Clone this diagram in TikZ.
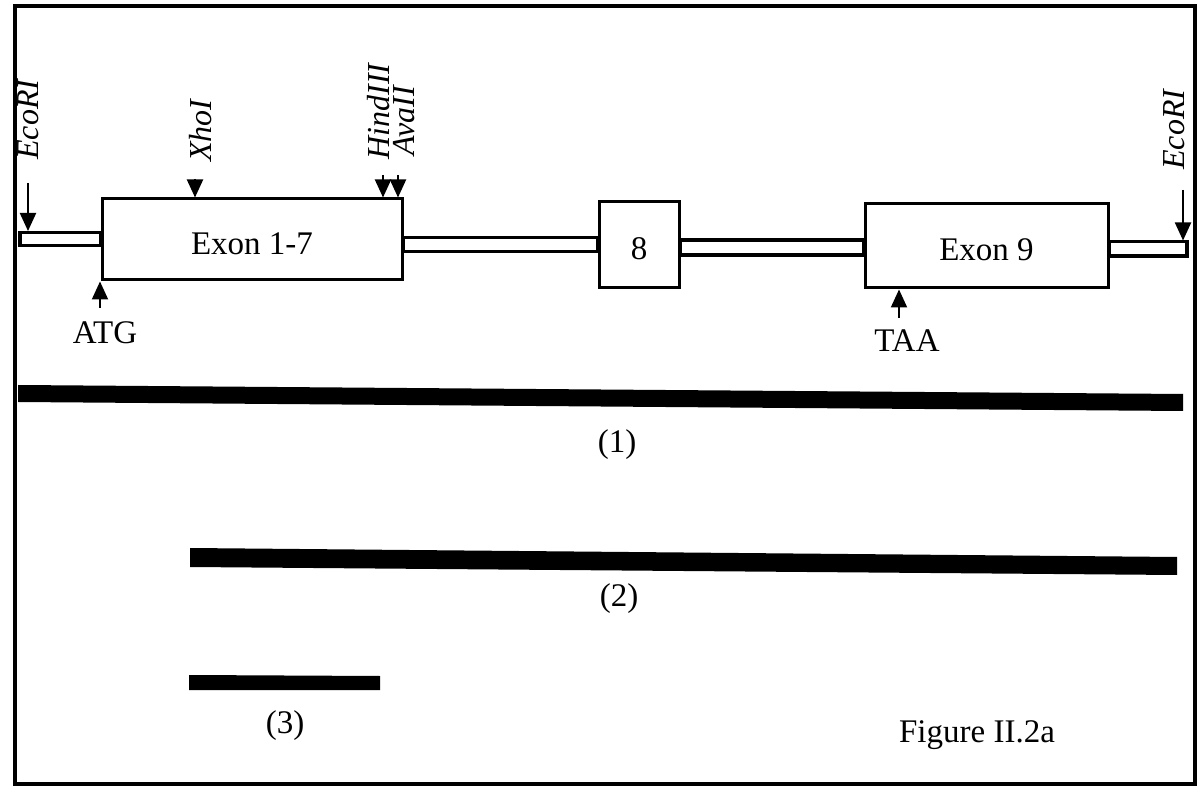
\documentclass[tikz,border=0pt]{standalone}
\usepackage{fontspec}
\setmainfont{Liberation Serif}
\usetikzlibrary{arrows.meta,positioning}
\tikzset{
  exonbox/.style={draw,line width=1.5pt,inner sep=0pt,text height=15pt,text depth=0pt,font=\fontsize{16.5}{20}\selectfont},
  intron/.style={draw,line width=1.6pt},
  sitelabel/.style={font=\fontsize{16}{19}\selectfont\itshape,rotate=90,anchor=base west,inner sep=0pt},
  cutarrow/.style={-{Triangle[length=9pt,width=8pt]},line width=1pt},
  plainlabel/.style={font=\fontsize{16.5}{20}\selectfont,inner sep=0pt},
}

\begin{document}
\begin{tikzpicture}[x=0.5pt,y=-0.5pt]
  \useasboundingbox (0,0) rectangle (1203,795);
  % Frame
  \draw[line width=1.6pt] (15,6) rectangle (1195,784);
  % Exons
  \node[exonbox,minimum width=150pt,minimum height=40.5pt] (ex17) at (252,239.5) {Exon 1-7};
  \node[exonbox,minimum width=40pt,minimum height=43pt] (ex8) at (639,245) {8};
  \node[exonbox,minimum width=121.5pt,minimum height=42pt] (ex9) at (986.5,246) {Exon 9};
  % Introns
  \draw[intron] (20,232.5) rectangle (ex17.west |- 0,245.5);
  \draw[intron] (ex17.east |- 0,237.5) rectangle (ex8.west |- 0,251.5);
  \draw[intron] (ex8.east |- 0,240) rectangle (ex9.west |- 0,255);
  \draw[intron] (ex9.east |- 0,241.5) rectangle (1187,256);
  % Restriction sites
  \node[sitelabel] (ecoL) at (39,160) {EcoRI};
  \node[sitelabel] (xho) at (211,162) {XhoI};
  \node[sitelabel] (hind) at (389,160) {HindIII};
  \node[sitelabel] (ava) at (414,156) {AvaII};
  \node[sitelabel] (ecoR) at (1184,170) {EcoRI};
  \coordinate (ecoLtail) at (28,183);
  \coordinate (xhotail) at (195,179);
  \coordinate (hindtail) at (383,175);
  \coordinate (avatail) at (398,175);
  \coordinate (ecoRtail) at (1183,190);
  \draw[cutarrow] (ecoLtail) -- (28,231);
  \draw[cutarrow] (xhotail) -- (xhotail |- ex17.north);
  \draw[cutarrow] (hindtail) -- (hindtail |- ex17.north);
  \draw[cutarrow] (avatail) -- (avatail |- ex17.north);
  \draw[cutarrow] (ecoRtail) -- (1183,240.5);
  % Start and stop codons
  \node[plainlabel] (atg) at (105,333) {ATG};
  \node[plainlabel] (taa) at (907,341) {TAA};
  \coordinate (atgtail) at (100,308);
  \coordinate (taatail) at (899,318);
  \draw[cutarrow] (atgtail) -- (atgtail |- ex17.south);
  \draw[cutarrow] (taatail) -- (taatail |- ex9.south);
  % Fragments
  \fill (18,385) -- (1183,394) -- (1183,411) -- (18,402) -- cycle;
  \fill (190,548) -- (1177,557) -- (1177,575) -- (190,567) -- cycle;
  \fill (189,675) -- (380,676) -- (380,690) -- (189,690) -- cycle;
  \node[plainlabel] (frag1) at (617,445) {(1)};
  \node[plainlabel] (frag2) at (619,599) {(2)};
  \node[plainlabel] (frag3) at (285,726) {(3)};
  \node[plainlabel] (figlabel) at (977,735) {Figure II.2a};
\end{tikzpicture}
\end{document}
